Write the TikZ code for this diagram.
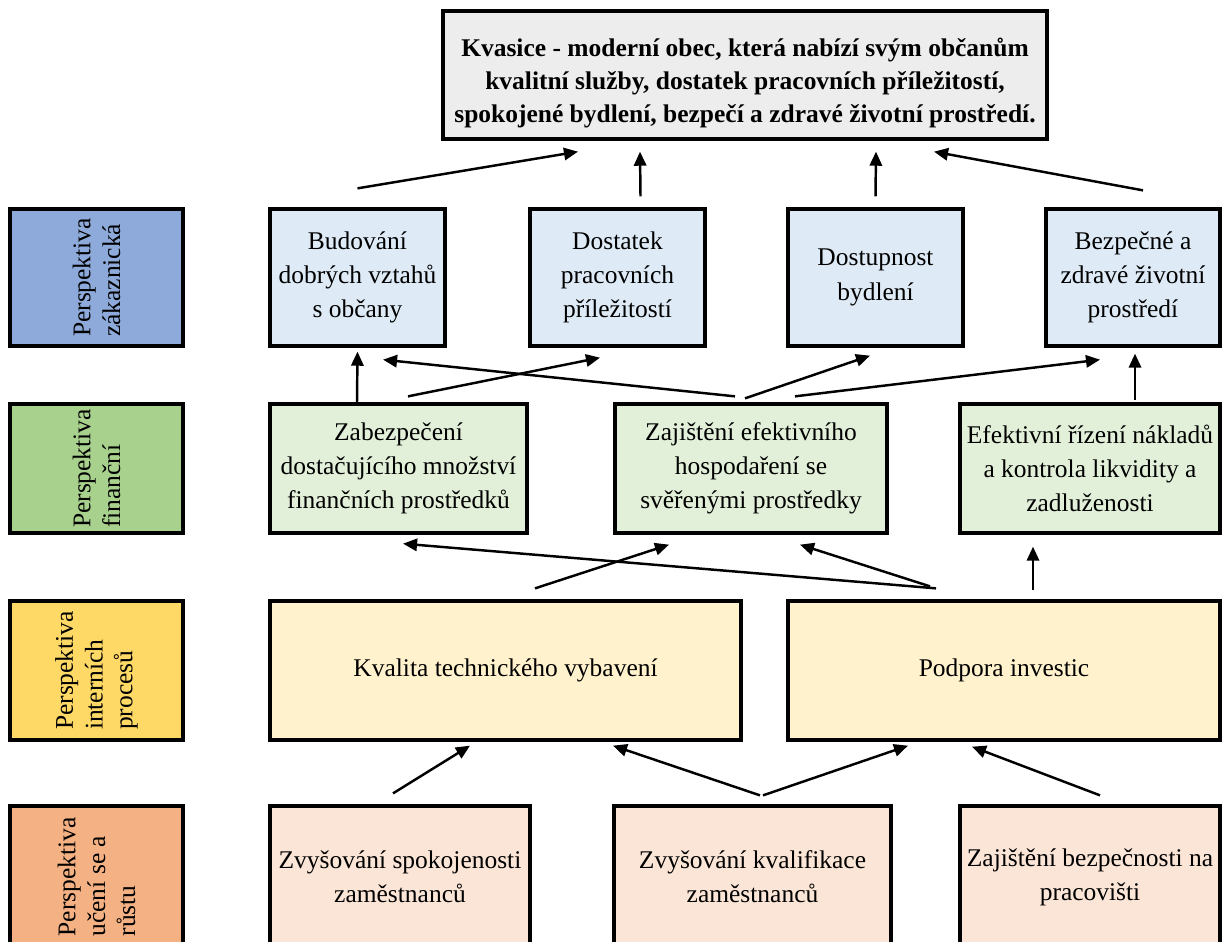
\documentclass[tikz,border=0pt]{standalone}
\usepackage{fontspec}
\setmainfont{Liberation Serif}
\usetikzlibrary{calc,arrows.meta}

\definecolor{zakcol}{HTML}{8EAADB}
\definecolor{fincol}{HTML}{A9D18E}
\definecolor{proccol}{HTML}{FFD966}
\definecolor{learncol}{HTML}{F4B183}
\definecolor{zakbg}{HTML}{DEEBF7}
\definecolor{finbg}{HTML}{E2F0D9}
\definecolor{procbg}{HTML}{FFF2CC}
\definecolor{learnbg}{HTML}{FBE5D6}
\definecolor{goalbg}{HTML}{EDEDED}

\begin{document}
\begin{tikzpicture}[x=0.02cm, y=-0.02cm,
      font=\fontsize{14.5}{19.5}\selectfont,
      >={Triangle[length=8pt,width=7pt]},
      box/.style={draw, line width=1.9pt, align=center, inner sep=2pt},
      persp/.style={box, rotate=90, align=left,
        font=\fontsize{14.5}{17}\selectfont,
        minimum height=3.46cm},
      arr/.style={->, line width=1.4pt}]
    \clip (0,0) rectangle (1226,941);
    % vision
    \node[box, fill=goalbg, minimum width=12.08cm, minimum height=2.56cm,
      font=\fontsize{14.5}{18.7}\selectfont\bfseries] (goal) at (745,75)
      {\rule{0pt}{20pt}Kvasice - moderní obec, která nabízí svým občanům\\
       kvalitní služby, dostatek pracovních příležitostí,\\
       spokojené bydlení, bezpečí a zdravé životní prostředí.};
    % the four perspectives
    \node[persp, fill=zakcol, minimum width=2.74cm] (pzak) at (96.5,277.5)
      {Perspektiva\\zákaznická};
    \node[persp, fill=fincol, minimum width=2.58cm] (pfin) at (96.5,468.5)
      {Perspektiva\\finanční};
    \node[persp, fill=proccol, minimum width=2.78cm] (pproc) at (96.5,670.5)
      {Perspektiva\\interních\\procesů};
    \node[persp, fill=learncol, minimum width=2.84cm] (plearn) at (96.5,877)
      {Perspektiva\\učení se a\\růstu};
    % customer goals
    \node[box, fill=zakbg, minimum width=3.5cm, minimum height=2.74cm] (bud) at (357.5,277.5)
      {Budování\\dobrých vztahů\\s občany};
    \node[box, fill=zakbg, minimum width=3.5cm, minimum height=2.74cm] (dost) at (617.5,277.5)
      {Dostatek\\pracovních\\příležitostí};
    \node[box, fill=zakbg, minimum width=3.5cm, minimum height=2.74cm] (dstp) at (875.5,277.5)
      {Dostupnost\\bydlení};
    \node[box, fill=zakbg, minimum width=3.48cm, minimum height=2.74cm] (bezp) at (1133,277.5)
      {Bezpečné a\\zdravé životní\\prostředí};
    % financial goals
    \node[box, fill=finbg, minimum width=5.14cm, minimum height=2.58cm] (zab) at (398.5,468.5)
      {Zabezpečení\\dostačujícího množství\\finančních prostředků};
    \node[box, fill=finbg, minimum width=5.44cm, minimum height=2.58cm] (zaj) at (751,468.5)
      {Zajištění efektivního\\hospodaření se\\svěřenými prostředky};
    \node[box, fill=finbg, minimum width=5.2cm, minimum height=2.58cm] (efe) at (1090,468.5)
      {Efektivní řízení nákladů\\a kontrola likvidity a\\zadluženosti};
    % internal processes
    \node[box, fill=procbg, minimum width=9.42cm, minimum height=2.78cm] (kval) at (505.5,670.5)
      {Kvalita technického vybavení};
    \node[box, fill=procbg, minimum width=8.64cm, minimum height=2.78cm] (podp) at (1004,670.5)
      {Podpora investic};
    % learning and growth
    \node[box, fill=learnbg, minimum width=5.2cm, minimum height=2.84cm] (zvs) at (400,877)
      {Zvyšování spokojenosti\\zaměstnanců};
    \node[box, fill=learnbg, minimum width=5.54cm, minimum height=2.84cm] (zvk) at (752.5,877)
      {Zvyšování kvalifikace\\zaměstnanců};
    \node[box, fill=learnbg, minimum width=5.2cm, minimum height=2.84cm] (zbp) at (1090,877)
      {Zajištění bezpečnosti na\\pracovišti};
    % arrows to the vision
    \draw[arr] ($(bud.north)+(0,-19)$) -- ($(goal.south)+(-167,11)$);
    \draw[arr] ($(dost.north)+(23,-11)$) -- ($(goal.south)+(-105,11)$);
    \draw[arr] ($(dstp.north)+(0,-11)$) -- ($(goal.south)+(131,11)$);
    \draw[arr] ($(bezp.north)+(10,-17)$) -- ($(goal.south)+(189,11)$);
    % financial -> customer
    \draw[arr] ($(zab.north)+(-41.5,0)$) -- ($(bud.south)+(0,4)$);
    \draw[arr] ($(zab.north)+(9.5,-6)$) -- ($(dost.south)+(-17.5,10)$);
    \draw[arr] ($(zaj.north)+(-16,-6)$) -- ($(bud.south)+(25.5,12)$);
    \draw[arr] ($(zaj.north)+(-6,-4)$) -- ($(dstp.south)+(-5.5,8)$);
    \draw[arr] ($(zaj.north)+(44,-6)$) -- ($(bezp.south)+(-33,12)$);
    \draw[arr] ($(efe.north)+(45,-2)$) -- ($(bezp.south)+(2,6)$);
    % internal -> financial
    \draw[arr] ($(podp.north)+(-68,-11)$) -- ($(zab.south)+(4.5,9)$);
    \draw[arr] ($(kval.north)+(29.5,-11)$) -- ($(zaj.south)+(-82,10)$);
    \draw[arr] ($(podp.north)+(-74,-13)$) -- ($(zaj.south)+(49,10)$);
    \draw[arr] ($(podp.north)+(29,-9)$) -- ($(efe.south)+(-57,12)$);
    % learning -> internal
    \draw[arr] ($(zvs.north)+(-7,-11)$) -- ($(kval.south)+(-35.5,4)$);
    \draw[arr] ($(zvk.north)+(7.5,-9)$) -- ($(kval.south)+(107.5,4)$);
    \draw[arr] ($(zvk.north)+(10.5,-9)$) -- ($(podp.south)+(-96,4)$);
    \draw[arr] ($(zbp.north)+(10,-9)$) -- ($(podp.south)+(-32,5)$);
  \end{tikzpicture}
\end{document}
